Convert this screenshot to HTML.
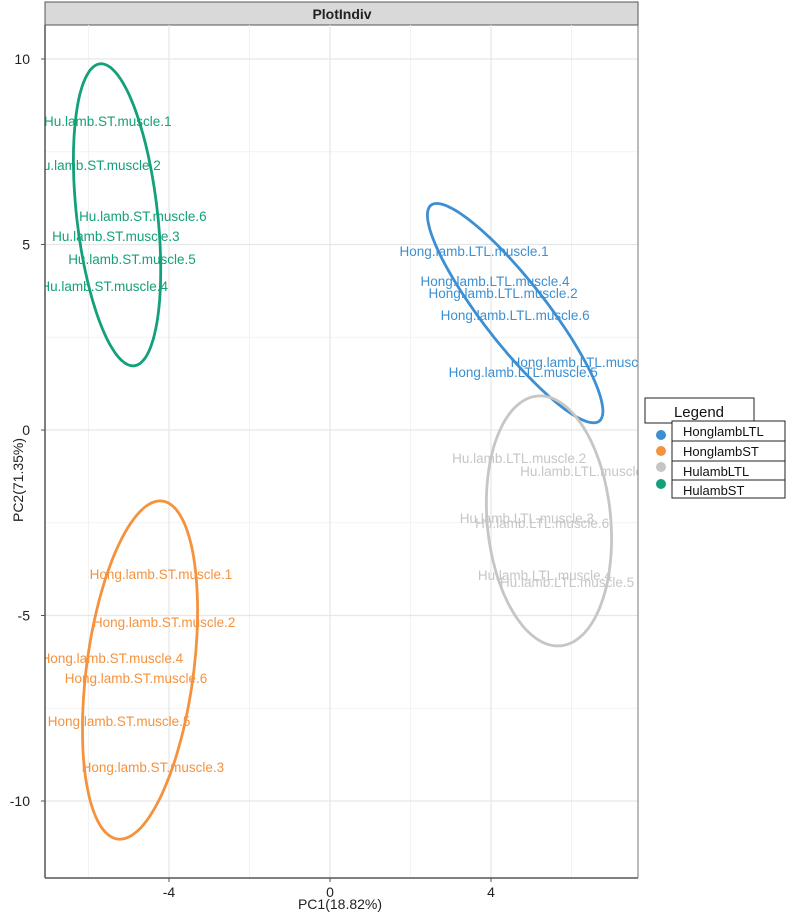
<!DOCTYPE html>
<html><head><meta charset="utf-8"><style>
body{margin:0;background:#fff;font-family:"Liberation Sans",sans-serif}
svg text{font-family:"Liberation Sans",sans-serif}
</style></head><body>
<svg id="c" width="787" height="914" xmlns="http://www.w3.org/2000/svg">
<defs><clipPath id="pc"><rect x="45" y="25" width="593" height="853"/></clipPath></defs>
<rect x="45" y="2" width="593" height="23" fill="#d9d9d9" stroke="#555" stroke-width="1"/>
<text x="342" y="19" text-anchor="middle" font-size="14" font-weight="bold" fill="#222">PlotIndiv</text>
<g id="grid"></g>
<g id="ell" clip-path="url(#pc)"></g>
<g id="lab" clip-path="url(#pc)"></g>
<line x1="45" y1="25" x2="45" y2="878" stroke="#555" stroke-width="1.5"/>
<line x1="45" y1="878" x2="638" y2="878" stroke="#555" stroke-width="1.5"/>
<line x1="638" y1="25" x2="638" y2="878" stroke="#777" stroke-width="1"/>
<g id="ticks"></g>
<text x="340" y="909" text-anchor="middle" font-size="14" fill="#222">PC1(18.82%)</text>
<text transform="translate(23,480) rotate(-90)" text-anchor="middle" font-size="14" fill="#222">PC2(71.35%)</text>
<g>
<rect x="645" y="398" width="109" height="25" fill="#fff" stroke="#222"/>
<text x="699" y="417" text-anchor="middle" font-size="15" fill="#111">Legend</text>
<g id="leg"></g>
</g>
</svg>
<script>
const groups = ["HonglambLTL","HonglambST","HulambLTL","HulambST"];
const colors = ["#3c8fd2","#f5923e","#c6c6c6","#14a07a"];
// ellipse: center x, center y, major half-vector (ux,uy), minor half-vector (vx,vy) in data units
const ellCx = [4.60,-4.72,5.44,-5.29];
const ellCy = [3.15,-6.47,-2.45,5.80];
const ellUx = [-2.09,0.50,-0.22,-0.42];
const ellUy = [2.91,4.56,3.37,4.07];
const ellVx = [0.62,1.34,1.54,1.0];
const ellVy = [0.52,0,0,0.1];
const labelGroup = [0,0,0,0,0,0,2,2,2,2,2,2,1,1,1,1,1,1,3,3,3,3,3,3];
const labelText = ["Hong.lamb.LTL.muscle.1","Hong.lamb.LTL.muscle.4","Hong.lamb.LTL.muscle.2","Hong.lamb.LTL.muscle.6","Hong.lamb.LTL.muscle.3","Hong.lamb.LTL.muscle.5",
"Hu.lamb.LTL.muscle.2","Hu.lamb.LTL.muscle.1","Hu.lamb.LTL.muscle.3","Hu.lamb.LTL.muscle.6","Hu.lamb.LTL.muscle.4","Hu.lamb.LTL.muscle.5",
"Hong.lamb.ST.muscle.1","Hong.lamb.ST.muscle.2","Hong.lamb.ST.muscle.4","Hong.lamb.ST.muscle.6","Hong.lamb.ST.muscle.5","Hong.lamb.ST.muscle.3",
"Hu.lamb.ST.muscle.1","Hu.lamb.ST.muscle.2","Hu.lamb.ST.muscle.6","Hu.lamb.ST.muscle.3","Hu.lamb.ST.muscle.5","Hu.lamb.ST.muscle.4"];
const labelX = [3.58,4.10,4.30,4.60,6.34,4.80, 4.70,6.39,4.89,5.27,5.34,5.89, -4.20,-4.12,-5.42,-4.82,-5.24,-4.40, -5.52,-5.79,-4.65,-5.32,-4.92,-5.61];
const labelY = [4.80,3.99,3.67,3.07,1.81,1.54, -0.78,-1.13,-2.40,-2.53,-3.94,-4.12, -3.91,-5.20,-6.17,-6.71,-7.87,-9.11, 8.30,7.12,5.74,5.20,4.58,3.85];
const xTicks = [-4,0,4];
const yTicks = [10,5,0,-5,-10];
const xMinor = [-6,-2,2,6];
const yMinor = [7.5,2.5,-2.5,-7.5];

const NS="http://www.w3.org/2000/svg";
const sx = v => 330 + v*40.25;
const sy = v => 430 - v*37.1;
function mk(tag, attrs, parent){const e=document.createElementNS(NS,tag);for(const k in attrs)e.setAttribute(k,attrs[k]);parent.appendChild(e);return e;}
const grid=document.getElementById('grid'), ticks=document.getElementById('ticks');
xMinor.forEach(v=>{const l=mk('line',{x1:sx(v),x2:sx(v),y1:25,y2:878,stroke:'#f2f2f2','stroke-width':1},grid);

});
yMinor.forEach(v=>{const l=mk('line',{x1:45,x2:638,y1:sy(v),y2:sy(v),stroke:'#f2f2f2','stroke-width':1},grid);

});
xTicks.forEach(v=>{const l=mk('line',{x1:sx(v),x2:sx(v),y1:25,y2:878,stroke:'#e6e6e6','stroke-width':1.2},grid);


const t=mk('line',{x1:sx(v),x2:sx(v),y1:878,y2:882,stroke:'#555'},ticks);


const tx=mk('text',{x:sx(v),y:897,'text-anchor':'middle','font-size':14,fill:'#222'},ticks);tx.textContent=v;

});
yTicks.forEach(v=>{const l=mk('line',{x1:45,x2:638,y1:sy(v),y2:sy(v),stroke:'#e6e6e6','stroke-width':1.2},grid);


const t=mk('line',{x1:41,x2:45,y1:sy(v),y2:sy(v),stroke:'#555'},ticks);


const tx=mk('text',{x:30,y:sy(v)+5,'text-anchor':'end','font-size':14,fill:'#222'},ticks);tx.textContent=v;

});
const ell=document.getElementById('ell');
groups.forEach((g,i)=>{let pts=[];for(let k=0;k<=120;k++){const f=k/120*2*Math.PI;
const x=ellCx[i]+Math.cos(f)*ellUx[i]+Math.sin(f)*ellVx[i];
const y=ellCy[i]+Math.cos(f)*ellUy[i]+Math.sin(f)*ellVy[i];
pts.push(sx(x).toFixed(1)+','+sy(y).toFixed(1));}
const p=mk('polygon',{points:pts.join(' '),fill:'none',stroke:colors[i],'stroke-width':2.8},ell);

});
const lab=document.getElementById('lab');
labelText.forEach((s,i)=>{const t=mk('text',{x:sx(labelX[i]),y:sy(labelY[i])+4,'text-anchor':'middle','font-size':13.5,fill:colors[labelGroup[i]]},lab);t.textContent=s;

});
const leg=document.getElementById('leg');
const legY=[421,441,461,480];
const dotY=[435,451,467,484];
groups.forEach((g,i)=>{const c=mk('circle',{cx:661,cy:dotY[i],r:5,fill:colors[i]},leg);


const r=mk('rect',{x:672,y:legY[i],width:113,height:(i==3?18:20),fill:'#fff',stroke:'#222'},leg);


const t=mk('text',{x:683,y:legY[i]+15,'font-size':13,fill:'#111'},leg);t.textContent=g;

});
</script>
</body></html>
